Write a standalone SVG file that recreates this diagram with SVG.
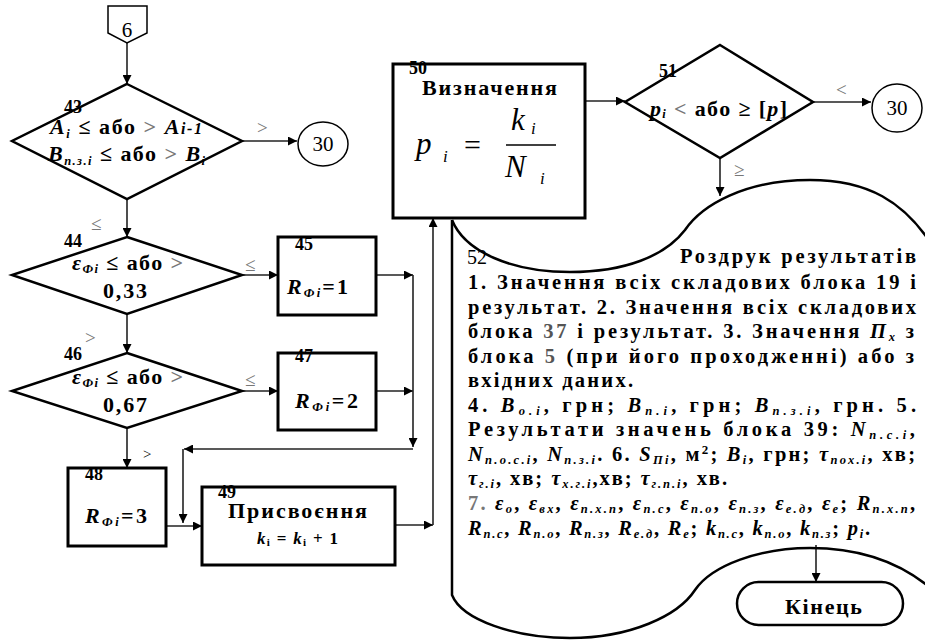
<svg xmlns="http://www.w3.org/2000/svg" width="925" height="641" viewBox="0 0 925 641" font-family="'Liberation Serif', 'Times New Roman', 'DejaVu Serif', serif">
<defs>
<marker id="ah" viewBox="0 0 10 10" refX="10" refY="5" markerWidth="11" markerHeight="9" markerUnits="userSpaceOnUse" orient="auto"><path d="M0,0 L10,5 L0,10 z" fill="#000"/></marker>
</defs>
<style>
.b{fill:#fff;stroke:#000;stroke-width:3}
.d{fill:#fff;stroke:#000;stroke-width:2.5}
.o{fill:#fff;stroke:#000;stroke-width:1.5}
.c{fill:none;stroke:#222;stroke-width:1.6;marker-end:url(#ah)}
.l{fill:none;stroke:#000;stroke-width:2.5}
text{font-family:'Liberation Serif','Times New Roman','DejaVu Serif',serif;fill:#000}
.t{font-weight:bold;font-size:22px}
.m{font-weight:bold;font-size:18px}
.n{font-weight:bold;font-size:20.5px}
.g{fill:#777;font-size:19px}
.i{font-style:italic}
.s{font-size:12.5px;font-style:italic}
.f{font-style:italic;font-size:31px}
</style>

<g id="connectors">
<line class="c" x1="127" y1="43" x2="127" y2="84"/>
<line class="c" x1="242" y1="141" x2="297" y2="141"/>
<line class="c" x1="127" y1="199" x2="127" y2="237"/>
<line class="c" x1="242" y1="275" x2="278" y2="275"/>
<line class="c" x1="127" y1="314" x2="127" y2="353"/>
<line class="c" x1="376" y1="275" x2="413" y2="275"/>
<line class="c" x1="242" y1="391" x2="278" y2="391"/>
<line class="c" x1="376" y1="391" x2="413" y2="391"/>
<line class="c" x1="413" y1="275" x2="413" y2="447"/>
<line class="c" x1="413" y1="449" x2="184" y2="449"/>
<line class="c" x1="183" y1="449" x2="183" y2="523"/>
<line class="c" x1="127" y1="428" x2="127" y2="468"/>
<line class="c" x1="166" y1="526" x2="202" y2="526"/>
<line class="c" x1="395" y1="525" x2="433" y2="525"/>
<line class="c" x1="433" y1="525" x2="433" y2="218"/>
<line class="c" x1="585" y1="101" x2="625" y2="101"/>
<line class="c" x1="813" y1="102" x2="871" y2="102"/>
<line class="c" x1="720" y1="158" x2="720" y2="196"/>
<line class="c" x1="816" y1="545" x2="816" y2="582"/>
<text class="g" x="257" y="134">&gt;</text>
<text class="g" x="91" y="230">≤</text>
<text class="g" x="245" y="271">≤</text>
<text class="g" x="85" y="344">&gt;</text>
<text class="g" x="245" y="386">≤</text>
<text x="143" y="459" font-size="15">&gt;</text>
<text class="g" x="836" y="96">&lt;</text>
<text class="g" x="734" y="176">≥</text>
</g>

<g id="n6">
<path class="o" d="M108,6 H147 V33 L127,43 L108,33 Z"/>
<text x="127" y="37" font-size="21" text-anchor="middle">6</text>
</g>

<g id="n43">
<path class="d" d="M127,84 L242,141 L127,199 L12,141 Z"/>
<text class="m" x="64" y="113" font-size="19">43</text>
<text class="t" x="50" y="134" textLength="152" lengthAdjust="spacing"><tspan class="i">A</tspan><tspan class="s" dy="4">i</tspan><tspan dy="-4"> ≤ або </tspan><tspan fill="#777">&gt;</tspan> <tspan class="i">A</tspan><tspan class="i" font-size="16">i-1</tspan></text>
<text class="t" x="48" y="161" textLength="157" lengthAdjust="spacing"><tspan class="i">B</tspan><tspan class="s" dy="4">п.з.i</tspan><tspan dy="-4"> ≤ або </tspan><tspan fill="#777">&gt;</tspan> <tspan class="i">B</tspan><tspan class="s" dy="4">i</tspan></text>
</g>

<g id="n30a">
<ellipse class="o" cx="323" cy="144" rx="25" ry="22"/>
<text x="323" y="151" font-size="21" text-anchor="middle">30</text>
</g>

<g id="n44">
<path class="d" d="M127,237 L242,275 L127,314 L12,275 Z"/>
<text class="m" x="64" y="247" font-size="19">44</text>
<text class="t" x="72" y="270" textLength="111" lengthAdjust="spacing"><tspan class="i">ε</tspan><tspan class="s" dy="3">Фi</tspan><tspan dy="-3"> ≤ або </tspan><tspan fill="#777">&gt;</tspan></text>
<text class="t" x="103" y="298" textLength="44" lengthAdjust="spacing">0,33</text>
</g>

<g id="n45">
<rect class="b" x="278" y="237" width="98" height="78"/>
<text class="m" x="295" y="250">45</text>
<text class="t" x="287" y="294" font-size="24" textLength="61" lengthAdjust="spacing"><tspan class="i">R</tspan><tspan class="s" dy="3">Фi</tspan><tspan dy="-3">=1</tspan></text>
</g>

<g id="n46">
<path class="d" d="M127,353 L242,391 L127,428 L12,391 Z"/>
<text class="m" x="64" y="360" font-size="19">46</text>
<text class="t" x="72" y="384" textLength="111" lengthAdjust="spacing"><tspan class="i">ε</tspan><tspan class="s" dy="3">Фi</tspan><tspan dy="-3"> ≤ або </tspan><tspan fill="#777">&gt;</tspan></text>
<text class="t" x="103" y="412" textLength="44" lengthAdjust="spacing">0,67</text>
</g>

<g id="n47">
<rect class="b" x="278" y="353" width="98" height="77"/>
<text class="m" x="295" y="362">47</text>
<text class="t" x="295" y="408" font-size="24" textLength="63" lengthAdjust="spacing"><tspan class="i">R</tspan><tspan class="s" dy="3">Фi</tspan><tspan dy="-3">=2</tspan></text>
</g>

<g id="n48">
<rect class="b" x="68" y="468" width="98" height="78"/>
<text class="m" x="85" y="480">48</text>
<text class="t" x="85" y="523" font-size="24" textLength="62" lengthAdjust="spacing"><tspan class="i">R</tspan><tspan class="s" dy="3">Фi</tspan><tspan dy="-3">=3</tspan></text>
</g>

<g id="n49">
<rect class="b" x="202" y="487" width="193" height="78"/>
<text class="m" x="218" y="498">49</text>
<text class="t" x="228" y="518" font-size="23" textLength="139" lengthAdjust="spacing">Присвоєння</text>
<text x="257" y="544" font-size="17" font-weight="bold" textLength="81" lengthAdjust="spacing"><tspan class="i">k</tspan><tspan font-size="11" dy="2">i</tspan><tspan dy="-2"> = </tspan><tspan class="i">k</tspan><tspan font-size="11" dy="2">i</tspan><tspan dy="-2"> + 1</tspan></text>
</g>

<g id="n50">
<rect class="b" x="393" y="64" width="192" height="154"/>
<text class="m" x="409" y="74">50</text>
<text class="t" x="422" y="95" textLength="135" lengthAdjust="spacing">Визначення</text>
<text class="f" x="416" y="154">p</text>
<text x="443" y="162" font-size="17" font-style="italic">i</text>
<text x="464" y="155" font-size="30">=</text>
<line x1="506" y1="145" x2="556" y2="145" stroke="#000" stroke-width="1.3"/>
<text class="f" x="511" y="130">k</text>
<text x="531" y="134" font-size="17" font-style="italic">i</text>
<text class="f" x="505" y="177">N</text>
<text x="540" y="184" font-size="17" font-style="italic">i</text>
</g>

<g id="n51">
<path class="d" d="M720,45 L813,102 L720,158 L625,102 Z"/>
<text class="m" x="659" y="77" font-size="19">51</text>
<text class="t" x="650" y="116" textLength="137" lengthAdjust="spacing"><tspan class="i">p</tspan><tspan class="s" dy="2">i</tspan><tspan dy="-2"> </tspan><tspan fill="#777">&lt;</tspan> або ≥ [<tspan class="i">p</tspan>]</text>
</g>

<g id="n30b">
<ellipse class="o" cx="897" cy="108" rx="25" ry="24"/>
<text x="897" y="115" font-size="21" text-anchor="middle">30</text>
</g>

<g id="n52">
<path class="l" d="M452,220 C465,252 512,272 570,272 C625,272 665,256 685,230 C702,205 745,180 810,180 C866,180 905,200 935,250"/>
<path class="l" d="M452,220 V595 C462,620 515,638 570,638 C630,638 678,616 695,590 C712,565 760,548 810,548 C865,548 905,565 935,592"/>
<text x="467" y="264" font-size="20">52</text>
<text class="n" x="680" y="263" textLength="236" lengthAdjust="spacing">Роздрук результатів</text>
<text class="n" x="468" y="289" textLength="448" lengthAdjust="spacing">1. Значення всіх складових блока 19 і</text>
<text class="n" x="468" y="314" textLength="448" lengthAdjust="spacing">результат. 2. Значення всіх складових</text>
<text class="n" x="468" y="338" textLength="446" lengthAdjust="spacing">блока <tspan fill="#555">37</tspan> і результат. 3. Значення <tspan class="i">П</tspan><tspan class="s" dy="3">х</tspan><tspan dy="-3"> з</tspan></text>
<text class="n" x="468" y="363" textLength="446" lengthAdjust="spacing">блока <tspan fill="#555">5</tspan> (при його проходженні) або з</text>
<text class="n" x="468" y="387" textLength="165" lengthAdjust="spacing">вхідних даних.</text>
<text class="n" x="468" y="412" textLength="448" lengthAdjust="spacing">4. <tspan class="i">B</tspan><tspan class="s" dy="3">о.і</tspan><tspan dy="-3">, грн; </tspan><tspan class="i">B</tspan><tspan class="s" dy="3">п.і</tspan><tspan dy="-3">, грн; </tspan><tspan class="i">B</tspan><tspan class="s" dy="3">п.з.і</tspan><tspan dy="-3">, грн. 5.</tspan></text>
<text class="n" x="468" y="436" textLength="447" lengthAdjust="spacing">Результати значень блока 39: <tspan class="i">N</tspan><tspan class="s" dy="3">п.с.і</tspan><tspan dy="-3">,</tspan></text>
<text class="n" x="468" y="461" textLength="447" lengthAdjust="spacing"><tspan class="i">N</tspan><tspan class="s" dy="3">п.о.с.і</tspan><tspan dy="-3">, </tspan><tspan class="i">N</tspan><tspan class="s" dy="3">п.з.і</tspan><tspan dy="-3">. 6. </tspan><tspan class="i">S</tspan><tspan class="s" dy="3">Пі</tspan><tspan dy="-3">, м</tspan><tspan font-size="13" dy="-7">2</tspan><tspan dy="7">; </tspan><tspan class="i">B</tspan><tspan class="s" dy="3">і</tspan><tspan dy="-3">, грн; </tspan><tspan class="i">τ</tspan><tspan class="s" dy="3">пох.і</tspan><tspan dy="-3">, хв;</tspan></text>
<text class="n" x="468" y="485" textLength="259" lengthAdjust="spacing"><tspan class="i">τ</tspan><tspan class="s" dy="3">г.і</tspan><tspan dy="-3">, хв; </tspan><tspan class="i">τ</tspan><tspan class="s" dy="3">х.г.і</tspan><tspan dy="-3">,хв; </tspan><tspan class="i">τ</tspan><tspan class="s" dy="3">г.п.і</tspan><tspan dy="-3">, хв.</tspan></text>
<text class="n" x="468" y="510" textLength="447" lengthAdjust="spacing"><tspan fill="#777">7.</tspan> <tspan class="i">ε</tspan><tspan class="s" dy="3">о</tspan><tspan dy="-3">, </tspan><tspan class="i">ε</tspan><tspan class="s" dy="3">вх</tspan><tspan dy="-3">, </tspan><tspan class="i">ε</tspan><tspan class="s" dy="3">п.х.п</tspan><tspan dy="-3">, </tspan><tspan class="i">ε</tspan><tspan class="s" dy="3">п.с</tspan><tspan dy="-3">, </tspan><tspan class="i">ε</tspan><tspan class="s" dy="3">п.о</tspan><tspan dy="-3">, </tspan><tspan class="i">ε</tspan><tspan class="s" dy="3">п.з</tspan><tspan dy="-3">, </tspan><tspan class="i">ε</tspan><tspan class="s" dy="3">е.д</tspan><tspan dy="-3">, </tspan><tspan class="i">ε</tspan><tspan class="s" dy="3">е</tspan><tspan dy="-3">; </tspan><tspan class="i">R</tspan><tspan class="s" dy="3">п.х.п</tspan><tspan dy="-3">,</tspan></text>
<text class="n" x="468" y="535" textLength="402" lengthAdjust="spacing"><tspan class="i">R</tspan><tspan class="s" dy="3">п.с</tspan><tspan dy="-3">, </tspan><tspan class="i">R</tspan><tspan class="s" dy="3">п.о</tspan><tspan dy="-3">, </tspan><tspan class="i">R</tspan><tspan class="s" dy="3">п.з</tspan><tspan dy="-3">, </tspan><tspan class="i">R</tspan><tspan class="s" dy="3">е.д</tspan><tspan dy="-3">, </tspan><tspan class="i">R</tspan><tspan class="s" dy="3">е</tspan><tspan dy="-3">; </tspan><tspan class="i">k</tspan><tspan class="s" dy="3">п.с</tspan><tspan dy="-3">, </tspan><tspan class="i">k</tspan><tspan class="s" dy="3">п.о</tspan><tspan dy="-3">, </tspan><tspan class="i">k</tspan><tspan class="s" dy="3">п.з</tspan><tspan dy="-3">; </tspan><tspan class="i">p</tspan><tspan class="s" dy="3">і</tspan><tspan dy="-3">.</tspan></text>
</g>

<g id="end">
<rect x="737" y="582" width="166" height="43" rx="21.5" fill="#fff" stroke="#000" stroke-width="2.5"/>
<text class="t" x="785" y="614" textLength="77" lengthAdjust="spacing">Кінець</text>
</g>
</svg>
